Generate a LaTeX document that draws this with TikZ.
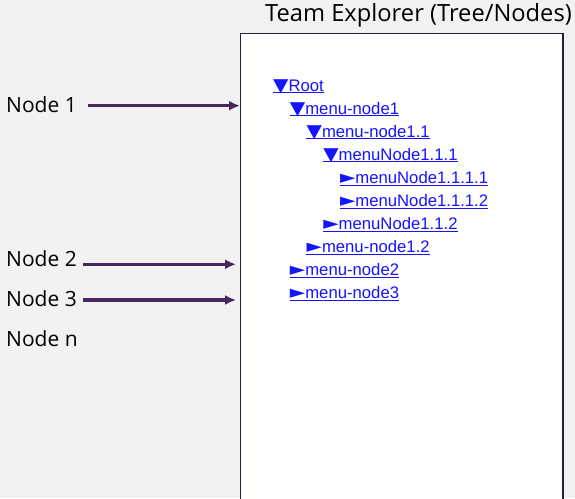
\documentclass[tikz,border=0pt]{standalone}
\usepackage{fontspec}
\setmainfont{Open Sans}
\newfontfamily\linkfont{Liberation Sans}
\newfontfamily\tipfont{DejaVu Sans}
\usetikzlibrary{arrows.meta}

\definecolor{bgc}{RGB}{242,242,242}
\definecolor{framec}{RGB}{45,27,61}
\definecolor{arrowc}{RGB}{72,38,94}
\definecolor{linkc}{RGB}{20,20,255}

\tikzset{
	lbl/.style={anchor=base west, inner sep=0, font=\fontsize{21}{25}\selectfont},
	item/.style={anchor=base west, inner sep=0, text=linkc, font=\fontsize{16.7}{19}\linkfont},
	pointer/.style={draw=arrowc, line width=3.5pt, -{Latex[length=11pt,width=10pt]}}
}

\newcommand{\opened}{{\tipfont\scalebox{1.2}[1.1]{▼}}}
\newcommand{\closed}{{\tipfont\scalebox{1.2}[1.1]{►}}}

\begin{document}
\begin{tikzpicture}[x=1pt, y=-1pt]
	\fill[bgc] (0,0) rectangle (575,498);
	\useasboundingbox (0,0) rectangle (575,498);
	
	% explorer panel
	\fill[white, draw=framec, line width=1.5pt] (240.5,33.5) rectangle (563,505);
	\node[lbl, font=\fontsize{23.7}{28}\selectfont] (title) at (265,21.7) {Team Explorer (Tree/Nodes)};
	
	% tree entries
	\foreach \i/\d/\s/\t in {0/0/\opened/Root, 1/1/\opened/menu-node1, 2/2/\opened/menu-node1.1,
		3/3/\opened/menuNode1.1.1, 4/4/\closed/menuNode1.1.1.1, 5/4/\closed/menuNode1.1.1.2,
		6/3/\closed/menuNode1.1.2, 7/2/\closed/menu-node1.2, 8/1/\closed/menu-node2, 9/1/\closed/menu-node3}
	{
		\node[item] (t\i) at (273+16.7*\d, 91+23.1*\i) {\s\t};
		\draw[linkc, line width=1pt] ([yshift=-1.6pt]t\i.base west) -- ([yshift=-1.6pt]t\i.base east);
	}
	
	% node labels
	\foreach \i/\y in {1/112.5, 2/266.5, 3/306.5, n/346.5}
	{
		\node[lbl] (n\i) at (6,\y) {Node \i};
	}
	
	\coordinate (p1) at (240,105.7);
	\coordinate (p2) at (236,264.3);
	\coordinate (p3) at (236,300);
	
	\draw[pointer] ([xshift=11pt]n1.east |- p1) -- (p1);
	\foreach \i in {2,3}
	{
		\draw[pointer] ([xshift=6pt]n\i.east |- p\i) -- (p\i);
	}
\end{tikzpicture}
\end{document}
